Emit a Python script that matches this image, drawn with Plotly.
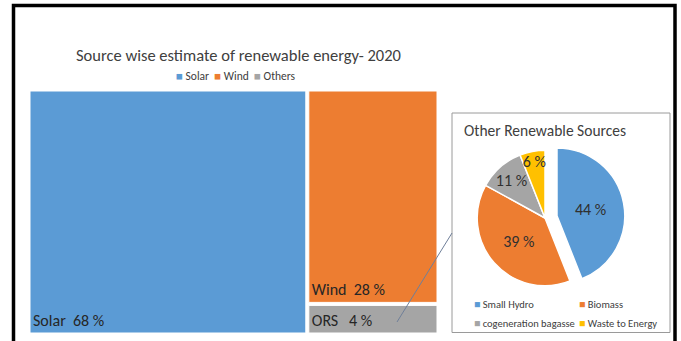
import plotly.graph_objects as go

W, H = 681, 341

# Share of each source in the 2020 renewable estimate (%)
main_labels = ["Solar", "Wind", "Others"]
main_tile_text = ["Solar", "Wind", "ORS "]
main_values = [68, 28, 4]
main_colors = ["#5B9BD5", "#ED7D31", "#A5A5A5"]

# Break-down of the "Others" share (%)
ors_labels = ["Small Hydro", "Biomass", "cogeneration bagasse", "Waste to Energy"]
ors_values = [44, 39, 11, 6]
ors_colors = ["#5B9BD5", "#ED7D31", "#A5A5A5", "#FFC000"]
ors_pull = [0.18, 0, 0, 0]

FONT = "Calibri, Carlito, Lato, sans-serif"
TXT = "#404040"


def px_x(x):
    return x / W


def px_y(y):
    return 1 - y / H


fig = go.Figure()

fig.add_trace(go.Treemap(
    labels=main_labels,
    parents=[""] * len(main_labels),
    values=main_values,
    text=main_tile_text,
    texttemplate="%{text}  %{value} %",
    textposition="bottom left",
    textfont=dict(family=FONT, size=16, color="#262626"),
    marker=dict(colors=main_colors, line=dict(color="white", width=1),
                pad=dict(t=0, l=0, r=0, b=0)),
    tiling=dict(packing="squarify", pad=3),
    pathbar=dict(visible=False),
    sort=False,
    hoverinfo="label+value",
    domain=dict(x=[px_x(30), px_x(437)], y=[px_y(333), px_y(91)]),
))

fig.add_trace(go.Pie(
    labels=ors_labels,
    values=ors_values,
    marker=dict(colors=ors_colors, line=dict(color="white", width=1.5)),
    pull=ors_pull,
    sort=False,
    direction="clockwise",
    rotation=0,
    texttemplate="%{value} %",
    textposition="inside",
    insidetextorientation="horizontal",
    textfont=dict(family=FONT, size=16, color="#303030"),
    showlegend=False,
    domain=dict(x=[px_x(465), px_x(625)], y=[px_y(298), px_y(138)]),
))

annotations = [
    dict(text="Source wise estimate of renewable energy- 2020",
         x=px_x(238), y=px_y(55), font=dict(family=FONT, size=16.5, color=TXT)),
    dict(text="  ".join(f"<span style='color:{c}'>■</span> {l}"
                        for l, c in zip(main_labels, main_colors)),
         x=px_x(236), y=px_y(76), font=dict(family=FONT, size=11.5, color=TXT)),
    dict(text="Other Renewable Sources", x=px_x(462), y=px_y(130),
         xanchor="left", font=dict(family=FONT, size=15.5, color=TXT)),
]

legend_pos = [(472, 304), (577, 304), (472, 323), (577, 323)]
for (lx, ly), lab, col in zip(legend_pos, ors_labels, ors_colors):
    annotations.append(dict(
        text=f"<span style='color:{col}'>■</span> {lab}",
        x=px_x(lx), y=px_y(ly), xanchor="left",
        font=dict(family=FONT, size=10.5, color=TXT)))

for a in annotations:
    a.setdefault("xanchor", "center")
    a.update(xref="paper", yref="paper", yanchor="middle", showarrow=False)

shapes = [
    # panel around the break-down pie
    dict(type="rect", xref="paper", yref="paper",
         x0=px_x(452), x1=px_x(670), y0=px_y(332.5), y1=px_y(113),
         line=dict(color="#9a9a9a", width=1), layer="below"),
    # leader from the ORS tile to the panel
    dict(type="line", xref="paper", yref="paper",
         x0=px_x(397), y0=px_y(322), x1=px_x(452), y1=px_y(233),
         line=dict(color="#6f7f99", width=1)),
    # outer frame
    dict(type="path", xref="paper", yref="paper",
         path=(f"M {px_x(13.5)},{px_y(345)} L {px_x(13.5)},{px_y(5.5)} "
               f"L {px_x(675)},{px_y(5.5)} L {px_x(675)},{px_y(345)}"),
         line=dict(color="black", width=3.5)),
]

fig.update_layout(
    width=W, height=H,
    margin=dict(l=0, r=0, t=0, b=0),
    paper_bgcolor="white", plot_bgcolor="white",
    annotations=annotations,
    shapes=shapes,
    font=dict(family=FONT, color=TXT),
    uniformtext=dict(minsize=16, mode="show"),
)

fig.write_html("out.html")
